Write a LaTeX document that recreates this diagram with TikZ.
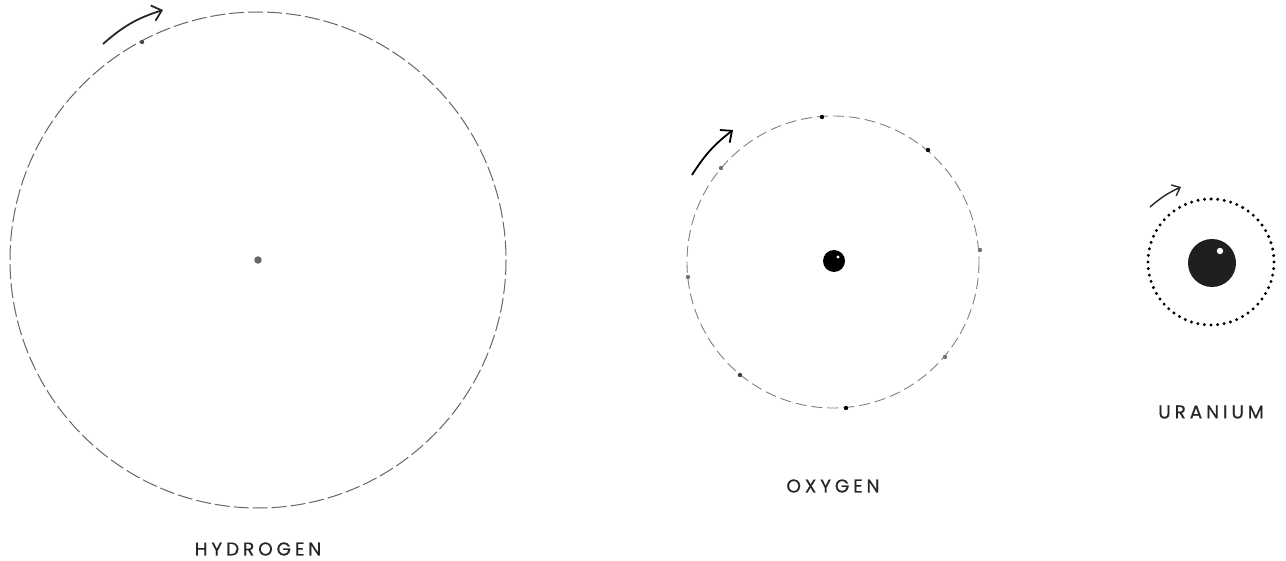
\documentclass[tikz,border=0pt]{standalone}
\usepackage{fontspec}
\setmainfont{Poppins}
\usetikzlibrary{arrows.meta}
\tikzset{
  orbit/.style={draw=black!60, line width=1pt, dash pattern=on 11pt off 5pt},
  dotorbit/.style={draw=black, line width=3.3pt, line cap=round, dash pattern=on 0pt off 6.6pt},
  electron/.style={circle, fill=#1, inner sep=0pt, minimum size=4.4pt},
  electron/.default=black,
  spin/.style={draw=black!85, line width=1.8pt, -{Straight Barb[length=9pt,width=16pt,line width=1.8pt]}},
  label/.style={font=\fontsize{18.5}{20}\selectfont\addfontfeature{LetterSpace=21,FakeBold=0.6}, text=black!85}
}
\begin{document}
\begin{tikzpicture}[x=1pt,y=-1pt]
\useasboundingbox (0,0) rectangle (1286,561);

% hydrogen
\coordinate (hc) at (258,260);
\draw[orbit, dash pattern=on 15pt off 4pt] (hc) circle[radius=248];
\node[circle, fill=black!60, inner sep=0pt, minimum size=7.5pt] (hn) at (hc) {};
\node[electron=black!70] (he1) at (142,42) {};
\coordinate (ha1) at (103,44);
\coordinate (ha2) at (163,10);
\draw[spin] (ha1) to[bend left=12] (ha2);
\node[label] (hl) at (258,549) {HYDROGEN};

% oxygen
\coordinate (oc) at (833,262);
\draw[orbit, draw=black!50, line width=0.9pt] (oc) circle[radius=146];
\node[circle, fill=black, inner sep=0pt, minimum size=22pt] (on) at (834,261) {};
\fill[white] (838,257) circle[radius=1.6];
\node[electron] (oe1) at (822,117) {};
\node[electron] (oe2) at (928,150) {};
\node[electron=black!55] (oe3) at (980,250) {};
\node[electron=black!55] (oe4) at (945,357) {};
\node[electron] (oe5) at (846,408) {};
\node[electron=black!75] (oe6) at (740,375) {};
\node[electron=black!55] (oe7) at (688,277) {};
\node[electron=black!55] (oe8) at (721,168) {};
\coordinate (oa1) at (692,175);
\coordinate (oa2) at (733,130);
\draw[spin, draw=black] (oa1) to[bend left=10] (oa2);
\node[label] (ol) at (833,486) {OXYGEN};

% uranium
\coordinate (uc) at (1211,262);
\draw[dotorbit] (uc) circle[radius=63];
\node[circle, fill=black!88, inner sep=0pt, minimum size=48pt] (un) at (1212,263) {};
\fill[white] (1220,251) circle[radius=3.2];
\coordinate (ua1) at (1150,207);
\coordinate (ua2) at (1181,187);
\draw[spin, line width=1.4pt, -{Straight Barb[length=7pt,width=12pt,line width=1.4pt]}] (ua1) to[bend left=8] (ua2);
\node[label] (ul) at (1211,412) {URANIUM};
\end{tikzpicture}
\end{document}
